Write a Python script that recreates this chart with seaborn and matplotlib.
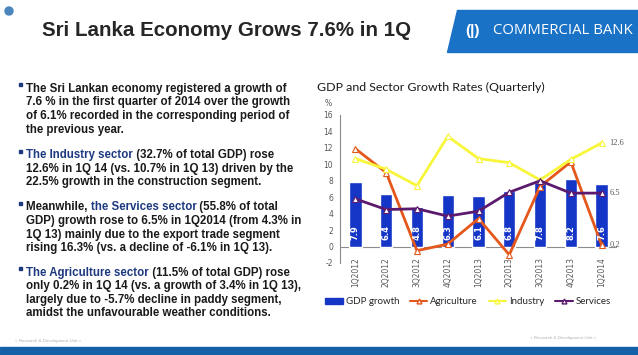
import matplotlib
matplotlib.use("Agg")
import matplotlib.pyplot as plt
import numpy as np
import seaborn as sns
from matplotlib.lines import Line2D
from matplotlib.patches import Circle, Patch, Polygon, Rectangle

# --- data ---
quarters = ["1Q2012", "2Q2012", "3Q2012", "4Q2012", "1Q2013",
            "2Q2013", "3Q2013", "4Q2013", "1Q2014"]
gdp_growth = [7.9, 6.4, 4.8, 6.3, 6.1, 6.8, 7.8, 8.2, 7.6]
agriculture = [11.9, 9.0, -0.5, 0.3, 3.4, -1.0, 7.3, 10.3, 0.2]
industry = [10.7, 9.4, 7.4, 13.4, 10.7, 10.2, 8.1, 10.6, 12.6]
services = [5.8, 4.5, 4.6, 3.7, 4.3, 6.6, 8.0, 6.5, 6.5]
y_ticks = [-2, 0, 2, 4, 6, 8, 10, 12, 14, 16]

BLUE_BAR = "#1535c6"
ORANGE = "#e4581c"
YELLOW = "#f8f63a"
PURPLE = "#5c1a6e"
NAVY = "#1d3a80"
GREY = "#595959"

sns.set_style("white")
plt.rcParams["font.family"] = ["Liberation Sans", "DejaVu Sans"]
plt.rcParams["axes.unicode_minus"] = False

W, H = 638, 355
fig = plt.figure(figsize=(W / 100, H / 100), dpi=100)

# full-slide layer in pixel coordinates
bg = fig.add_axes([0, 0, 1, 1])
bg.set_xlim(0, W)
bg.set_ylim(H, 0)
bg.axis("off")
renderer = fig.canvas.get_renderer()

# header
bg.add_patch(Circle((9, 11), 4, color="#4a86bd"))
bg.text(42, 30, "Sri Lanka Economy Grows 7.6% in 1Q", fontsize=14.8,
        weight="bold", color="#262626", va="center")
bg.add_patch(Polygon([(457, 10), (W, 10), (W, 52), (447, 52)],
                     closed=True, color="#1a72c6"))
bg.text(473, 31, "(|)", fontsize=11, weight="bold", color="white",
        ha="center", va="center")
bg.text(493, 31, "COMMERCIAL BANK", fontsize=10.7, color="white",
        va="center", family="Open Sans")

# footer
bg.add_patch(Rectangle((0, 347), W, 8, color="#1461a8"))
bg.text(15, 341, "< Research & Development Unit >", fontsize=3.2,
        color="#b0b0b0", va="center")
bg.text(530, 338, "< Research & Development Unit >", fontsize=3.2,
        color="#b0b0b0", va="center")

# bullet text
txt_kw = dict(fontsize=8.3, weight="bold")


def text_width(s):
    t = bg.text(0, 0, s + "|", **txt_kw)
    w1 = t.get_window_extent(renderer).width
    t.remove()
    t = bg.text(0, 0, "|", **txt_kw)
    w2 = t.get_window_extent(renderer).width
    t.remove()
    return w1 - w2


def rich_line(x, y, segments):
    prefix = ""
    for seg, col in segments:
        bg.text(x + (text_width(prefix) if prefix else 0), y, seg,
                color=col, va="baseline", **txt_kw)
        prefix += seg


K = "#1a1a1a"
bullets = [
    (91.7, [
        [("The Sri Lankan economy registered a growth of", K)],
        [("7.6 % in the first quarter of 2014 over the growth", K)],
        [("of 6.1% recorded in the corresponding period of", K)],
        [("the previous year.", K)],
    ]),
    (158.0, [
        [("The Industry sector", NAVY), (" (32.7% of total GDP) rose", K)],
        [("12.6% in 1Q 14 (vs. 10.7% in 1Q 13) driven by the", K)],
        [("22.5% growth in the construction segment.", K)],
    ]),
    (210.4, [
        [("Meanwhile, ", K), ("the Services sector", NAVY),
         (" (55.8% of total", K)],
        [("GDP) growth rose to 6.5% in 1Q2014 (from 4.3% in", K)],
        [("1Q 13) mainly due to the export trade segment", K)],
        [("rising 16.3% (vs. a decline of -6.1% in 1Q 13).", K)],
    ]),
    (275.7, [
        [("The Agriculture sector", NAVY), (" (11.5% of total GDP) rose", K)],
        [("only 0.2% in 1Q 14 (vs. a growth of 3.4% in 1Q 13),", K)],
        [("largely due to -5.7% decline in paddy segment,", K)],
        [("amidst the unfavourable weather conditions.", K)],
    ]),
]
for y0, lines in bullets:
    bg.add_patch(Rectangle((19.3, y0 - 8.3), 2.7, 3, color=NAVY))
    for i, segs in enumerate(lines):
        rich_line(26, y0 + i * 13.6, segs)

# chart title and unit
bg.text(317, 87, "GDP and Sector Growth Rates (Quarterly)", fontsize=8.9,
        color="#1a1a1a", va="center", family="Lato")
bg.text(328, 104, "%", fontsize=5.5, color=GREY, ha="center", va="center",
        family="DejaVu Sans")

# --- chart ---
ax = fig.add_axes([340 / W, 1 - 263 / H, 277 / W, 148 / H])
ax.patch.set_alpha(0)
sns.barplot(x=quarters, y=gdp_growth, color=BLUE_BAR, width=0.4,
            saturation=1, ax=ax, zorder=2)
xpos = np.arange(len(quarters))
for vals, col in [(agriculture, ORANGE), (industry, YELLOW), (services, PURPLE)]:
    sns.lineplot(x=xpos, y=vals, sort=False, color=col, lw=2, marker="^",
                 markersize=3.8, markerfacecolor="white", markeredgecolor=col,
                 markeredgewidth=0.8, ax=ax, zorder=3)

for i, v in enumerate(gdp_growth):
    ax.text(i, 0.8, f"{v}", rotation=90, ha="center", va="bottom",
            color="white", fontsize=6, weight="bold", zorder=4,
            family="DejaVu Sans")

for vals in (industry, services, agriculture):
    ax.annotate(f"{vals[-1]}", xy=(8, vals[-1]), xytext=(8, 0),
                textcoords="offset pixels", va="center", ha="left",
                fontsize=6, color=GREY, family="Liberation Serif")

ax.axhline(0, color="#8c8c8c", lw=0.8, zorder=1)
ax.set_xlim(-0.5, 8.5)
ax.set_ylim(-2, 16)
ax.set_yticks(y_ticks)
ax.set_xlabel("")
ax.set_ylabel("")
for s in ("top", "right", "bottom"):
    ax.spines[s].set_visible(False)
ax.spines["left"].set_color("#8c8c8c")
ax.spines["left"].set_linewidth(0.8)
ax.tick_params(axis="y", length=3, width=0.6, color="#8c8c8c", pad=2,
               labelsize=5.5, labelcolor=GREY)
ax.tick_params(axis="x", length=0, pad=-4, labelsize=5.5, labelcolor=GREY,
               rotation=90)
for lab in ax.get_xticklabels() + ax.get_yticklabels():
    lab.set_family("DejaVu Sans")

handles = [
    Patch(color=BLUE_BAR, label="GDP growth"),
    Line2D([], [], color=ORANGE, lw=1.5, marker="^", markersize=3.5,
           markerfacecolor="white", label="Agriculture"),
    Line2D([], [], color=YELLOW, lw=1.5, marker="^", markersize=3.5,
           markerfacecolor="white", label="Industry"),
    Line2D([], [], color=PURPLE, lw=1.5, marker="^", markersize=3.5,
           markerfacecolor="white", label="Services"),
]
fig.legend(handles=handles, loc="center", bbox_to_anchor=(468 / W, 1 - 302 / H),
           ncol=4, frameon=False, handlelength=1.8, handleheight=0.6,
           handletextpad=0.3, columnspacing=1.1,
           prop={"family": "Lato", "size": 7})

fig.savefig("out.png", dpi=100)
